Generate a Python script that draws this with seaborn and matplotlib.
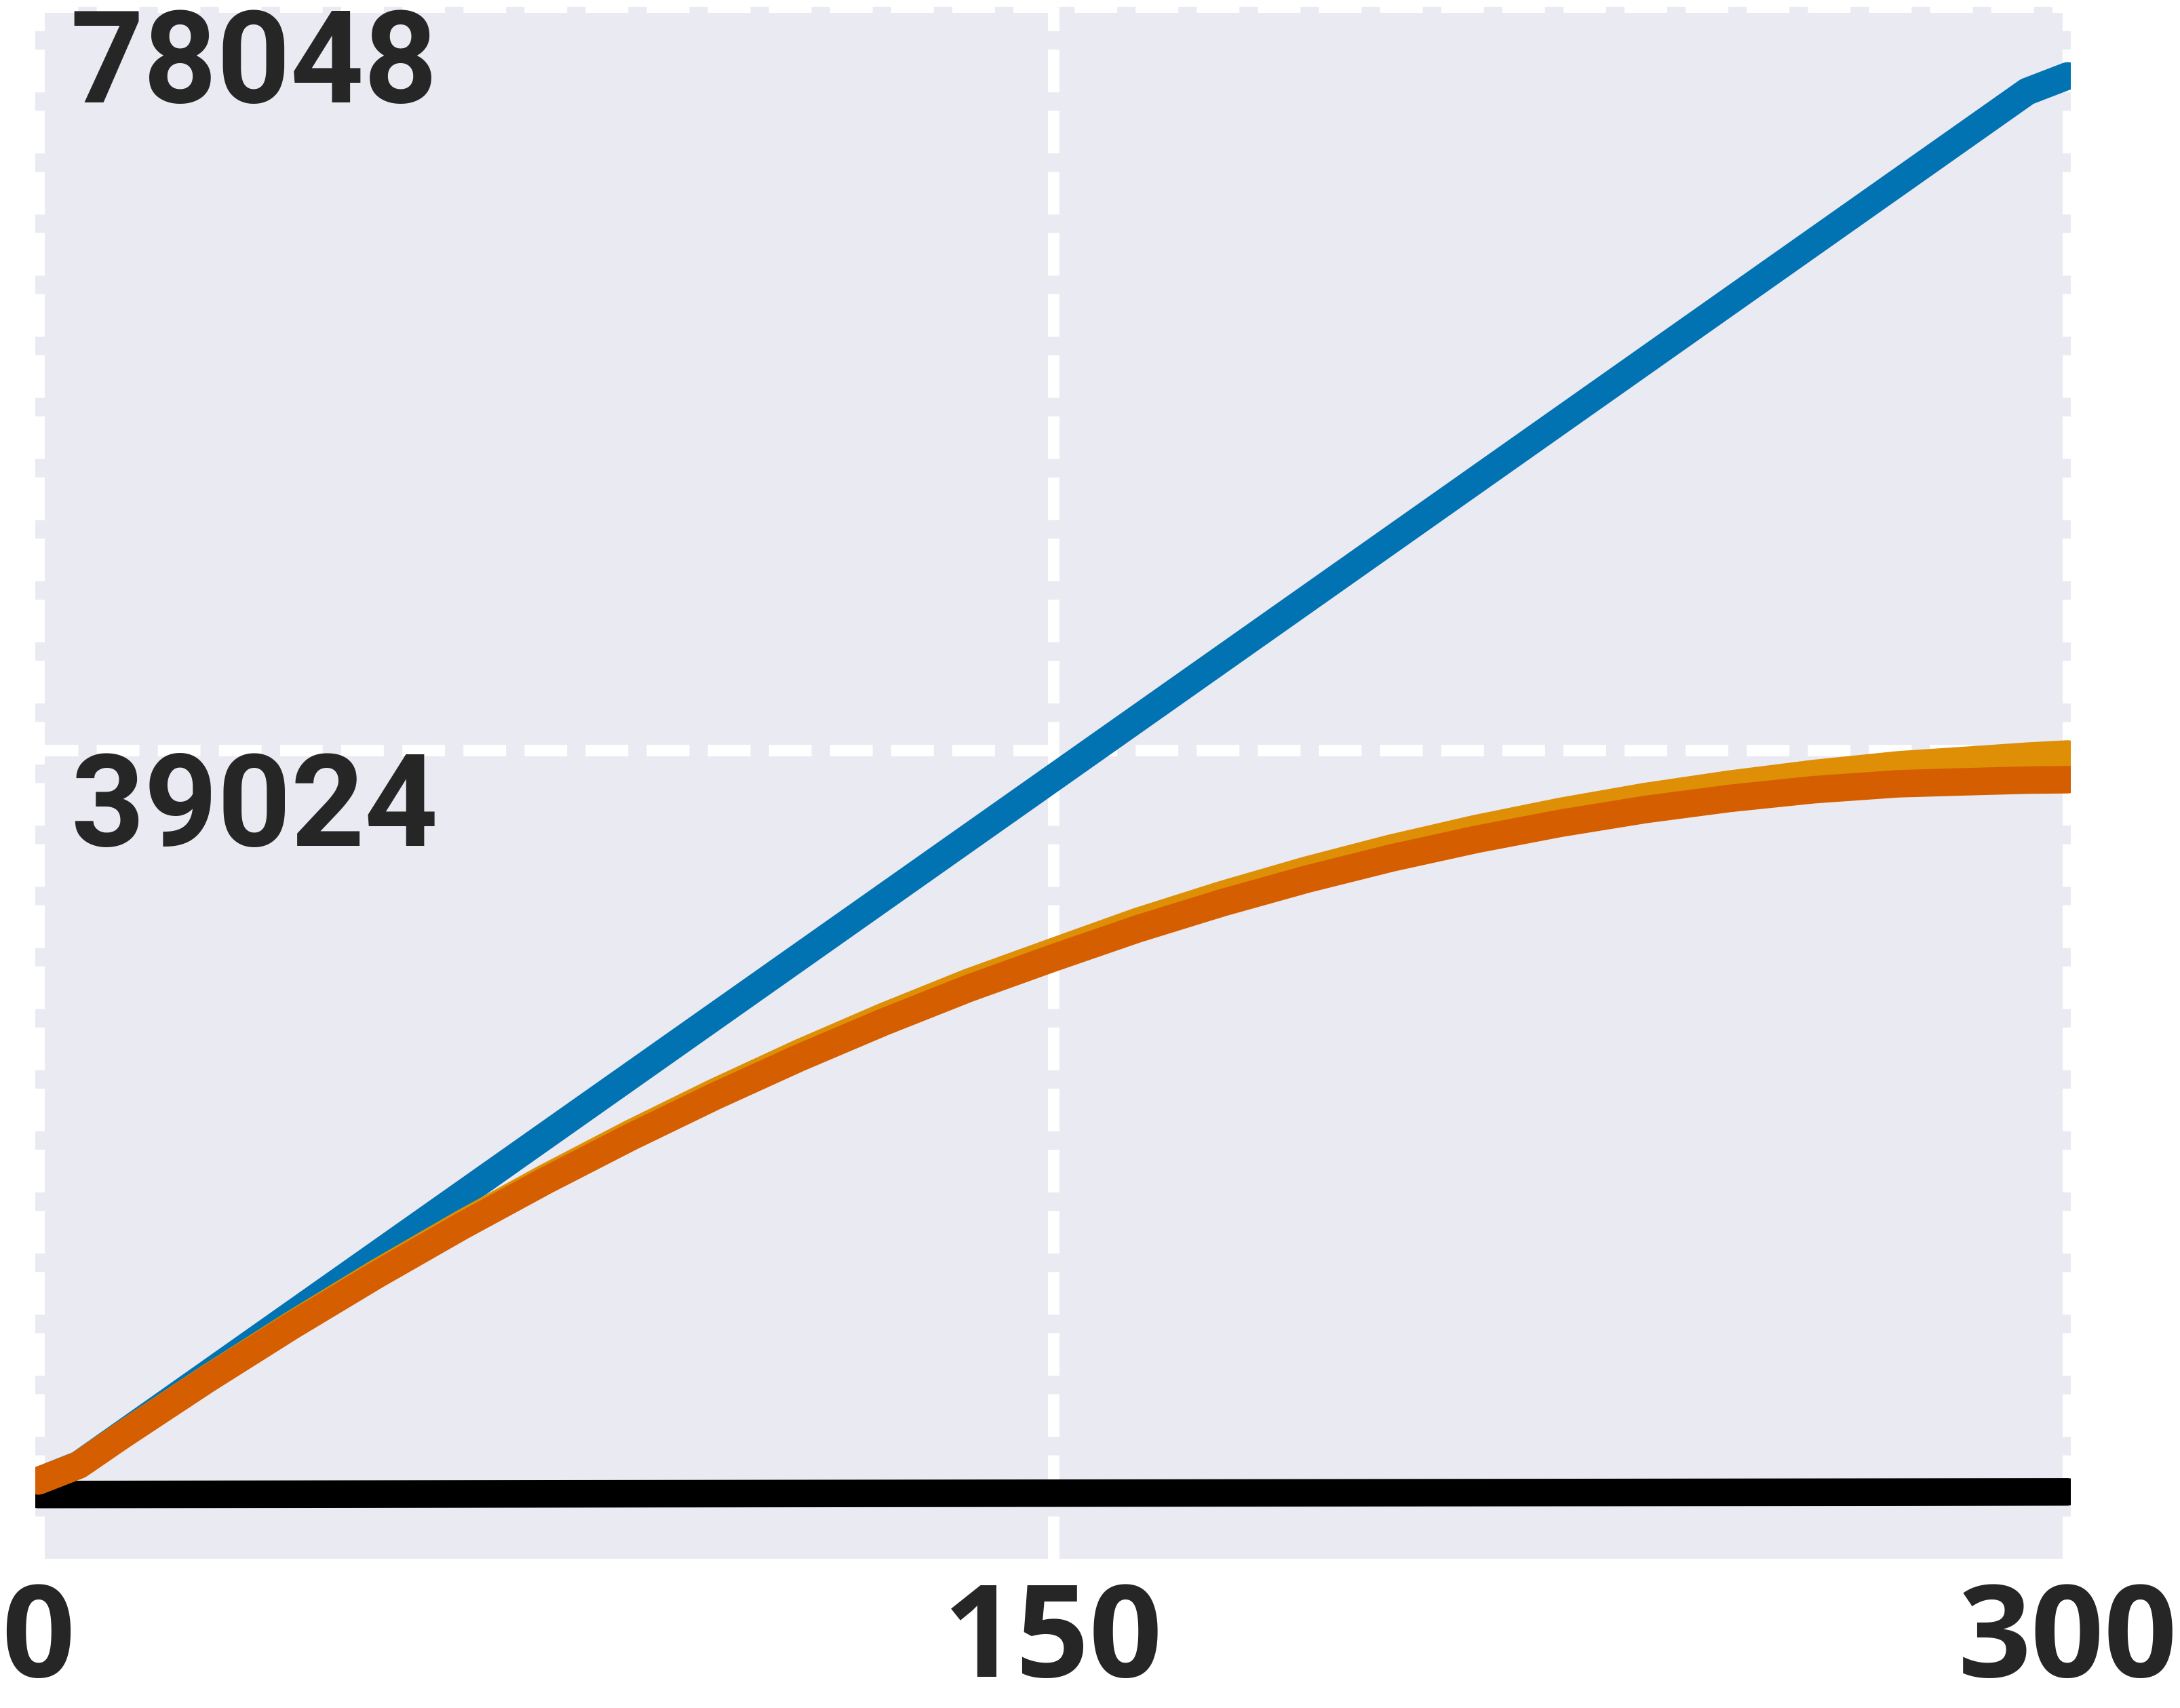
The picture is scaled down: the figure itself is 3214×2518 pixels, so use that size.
import matplotlib
matplotlib.use("Agg")
import matplotlib.pyplot as plt
import pandas as pd
import seaborn as sns

# values
linear_x = [0, 6, 294, 300]
linear_vals = [650, 1500, 73600, 74420]

curve_x = [0, 6, 12.5, 25, 37.5, 50, 62.5, 75, 87.5, 100, 112.5, 125, 137.5,
           150, 162.5, 175, 187.5, 200, 212.5, 225, 237.5, 250, 262.5, 275,
           287.5, 294, 300]
upper_vals = [650, 1480, 3070, 6020, 8850, 11560, 14130, 16570, 18880, 21060,
              23115, 25035, 26825, 28430, 30020, 31430, 32715, 33870, 34895,
              35795, 36575, 37230, 37790, 38246, 38540, 38700, 38814]
lower_vals = [650, 1480, 3060, 5990, 8790, 11460, 14000, 16410, 18690, 20840,
              22860, 24745, 26505, 28100, 29630, 31000, 32240, 33350, 34325,
              35175, 35895, 36480, 36940, 37251, 37380, 37440, 37464]

base_x = [0, 300]
base_vals = [-70, 70]

x_ticks = [0, 150, 300]
y_ticks = [39024, 78048]

series_order = ["base", "linear", "upper", "lower"]
colors = {"base": "#000000", "linear": "#0173B2",
          "upper": "#DE8F05", "lower": "#D55E00"}

rows = []
for name, xs, ys in [("base", base_x, base_vals),
                     ("linear", linear_x, linear_vals),
                     ("upper", curve_x, upper_vals),
                     ("lower", curve_x, lower_vals)]:
    for xv, yv in zip(xs, ys):
        rows.append({"x": xv, "y": yv, "series": name})
df = pd.DataFrame(rows)

sns.set_theme(style="darkgrid")
plt.rcParams["font.family"] = ["Open Sans", "DejaVu Sans"]

fig = plt.figure(figsize=(8.035, 6.295), dpi=400)
ax = fig.add_axes([0.01618, 0.08737, 0.93373, 0.90866])

sns.lineplot(data=df, x="x", y="y", hue="series", hue_order=series_order,
             palette=colors, linewidth=7.3, legend=False, ax=ax)

ax.set_xlim(-0.451, 300.451)
ax.set_ylim(-3444, 77800)
ax.set_xticks(x_ticks)
ax.set_yticks(y_ticks)
ax.set_yticklabels([])
ax.set_xlabel("")
ax.set_ylabel("")
ax.grid(True, color="white", linestyle="--", linewidth=3.06)
for sp in ax.spines.values():
    sp.set_visible(False)

ax.tick_params(axis="x", length=0, pad=5.6)
ax.tick_params(axis="y", length=0)
for lbl in ax.get_xticklabels():
    lbl.set_fontsize(34)
    lbl.set_fontweight("bold")
    lbl.set_color("#262626")

# y labels sit inside the plot, just under their value
for v in y_ticks:
    ax.annotate(str(v), xy=(x_ticks[0], v), xytext=(8.5, 0.2),
                textcoords="offset points", ha="left", va="top",
                fontsize=34, fontweight="bold", family=["Roboto", "DejaVu Sans"],
                color="#262626", annotation_clip=False)

fig.savefig("out.png", dpi=400)
